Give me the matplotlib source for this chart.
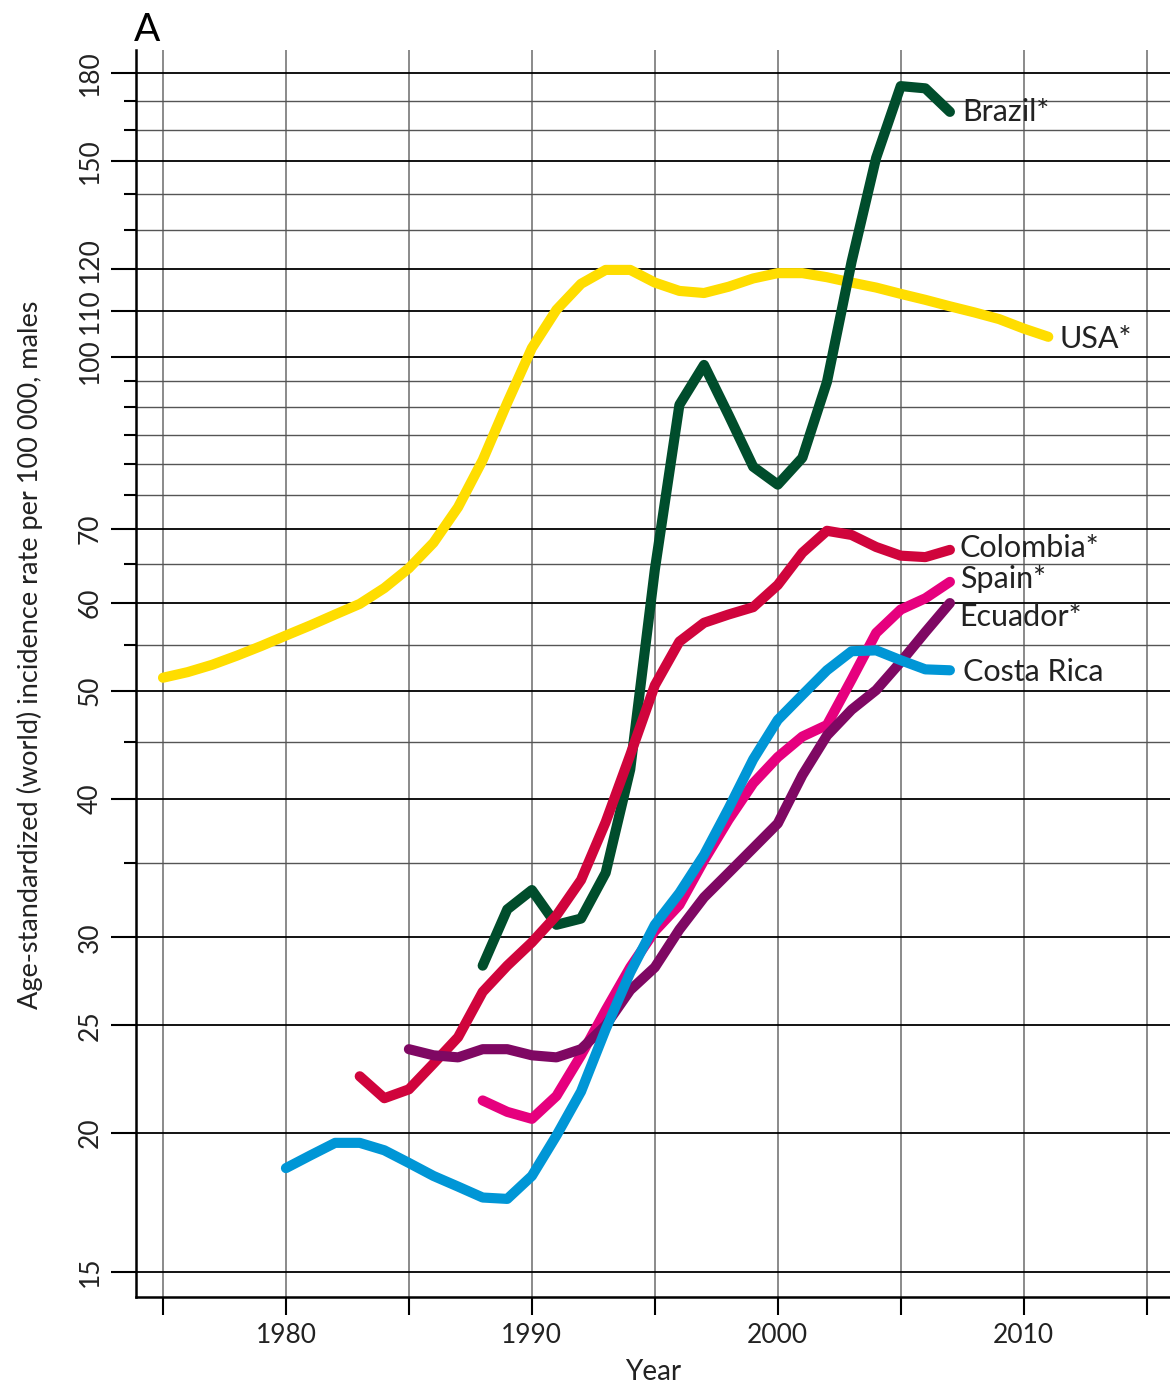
import matplotlib.pyplot as plt
from matplotlib.ticker import FixedLocator, NullFormatter
from matplotlib.transforms import offset_copy

plt.rcParams['font.family'] = ['Lato', 'DejaVu Sans']

usa_years = list(range(1975, 2012))
usa = [51.4, 52.0, 52.8, 53.8, 54.9, 56.1, 57.3, 58.6, 59.9, 61.9,
       64.5, 68.0, 73.2, 80.7, 90.9, 101.8, 110.2, 116.3, 119.7, 119.7,
       116.6, 114.6, 114.1, 115.6, 117.6, 118.9, 118.9, 117.9, 116.6, 115.4,
       113.9, 112.5, 111.0, 109.6, 108.1, 106.0, 104.2]

brazil_years = list(range(1988, 2008))
brazil = [28.3, 31.8, 33.1, 30.8, 31.2, 34.3, 42.5, 64.3, 90.5, 98.3,
          88.6, 79.6, 76.7, 81.1, 94.9, 121.7, 151.0, 175.2, 174.4, 166.1]

colombia_years = list(range(1983, 2008))
colombia = [22.5, 21.5, 21.9, 23.1, 24.4, 26.8, 28.3, 29.7, 31.4, 33.8,
            38.1, 43.8, 50.6, 55.4, 57.6, 58.6, 59.5, 62.3, 66.6, 69.7,
            69.1, 67.4, 66.2, 66.0, 67.0]

spain_years = list(range(1988, 2008))
spain = [21.4, 20.9, 20.6, 21.6, 23.5, 25.8, 28.2, 30.4, 32.1, 35.2,
         38.3, 41.3, 43.6, 45.5, 46.6, 51.2, 56.4, 59.2, 60.6, 62.7]

ecuador_years = list(range(1985, 2008))
ecuador = [23.8, 23.5, 23.4, 23.8, 23.8, 23.5, 23.4, 23.8, 25.0, 26.9,
           28.2, 30.5, 32.6, 34.3, 36.1, 38.0, 42.0, 45.6, 48.1, 50.1,
           53.1, 56.5, 60.0]

costa_rica_years = list(range(1980, 2008))
costa_rica = [18.6, 19.1, 19.6, 19.6, 19.3, 18.8, 18.3, 17.9, 17.5, 17.45,
              18.3, 19.9, 21.8, 24.8, 27.9, 30.8, 32.9, 35.6, 39.2, 43.4,
              47.1, 49.6, 52.2, 54.3, 54.4, 53.3, 52.3, 52.2]

major_y = [15, 20, 25, 30, 40, 50, 60, 70, 100, 110, 120, 150, 180]
minor_y = [35, 45, 55, 65, 75, 80, 85, 90, 95, 130, 140, 160, 170]
x_ticks = list(range(1975, 2016, 5))
x_labels = ['', '1980', '', '1990', '', '2000', '', '2010', '']

fig = plt.figure(figsize=(11.7, 13.83), dpi=100)
ax = fig.add_axes([0.1162, 0.0622, 0.8838, 0.9016])

# name, label x, label y
series = [
    (usa_years, usa, '#FFDD00', 'USA*', 2011.45, 103.7),
    (brazil_years, brazil, '#004D2C', 'Brazil*', 2007.5, 166),
    (colombia_years, colombia, '#D0043C', 'Colombia*', 2007.4, 67.3),
    (spain_years, spain, '#E6007E', 'Spain*', 2007.4, 63.1),
    (ecuador_years, ecuador, '#7F0863', 'Ecuador*', 2007.4, 58.3),
    (costa_rica_years, costa_rica, '#0096D6', 'Costa Rica', 2007.55, 52.0),
]
for years, vals, color, name, lx, ly in series:
    ax.plot(years, vals, color=color, lw=7.3, solid_capstyle='round',
            solid_joinstyle='round', zorder=3)
    ax.text(lx, ly, name, fontsize=22, va='center', ha='left', color='#222222')

ax.set_yscale('log')
ax.set_ylim(14.24, 188.8)
ax.set_xlim(1973.9, 2015.95)

ax.yaxis.set_major_locator(FixedLocator(major_y))
ax.yaxis.set_minor_locator(FixedLocator(minor_y))
ax.yaxis.set_major_formatter(NullFormatter())
ax.yaxis.set_minor_formatter(NullFormatter())
ax.set_xticks(x_ticks)
ax.set_xticklabels(x_labels)

# y tick labels drawn by hand so 100/110/120 don't collide
shift = {120: 9, 100: -4}
ytrans = ax.get_yaxis_transform()
for v in major_y:
    tr = offset_copy(ytrans, fig=fig, y=shift.get(v, 0), units='dots')
    ax.text(-0.044, v, str(v), transform=tr, rotation=90, fontsize=19,
            ha='center', va='center', color='#222222')

ax.tick_params(axis='y', which='major', length=18, width=1.5)
ax.tick_params(axis='y', which='minor', length=9, width=1.5)
ax.tick_params(axis='x', which='major', length=13, width=1.5, labelsize=19,
               pad=6, labelcolor='#222222')

ax.grid(which='major', axis='y', color='black', lw=1.3, zorder=1)
ax.grid(which='minor', axis='y', color='#555555', lw=1.0, zorder=1)
ax.grid(which='major', axis='x', color='#777777', lw=1.2, zorder=1)

for side in ['top', 'right']:
    ax.spines[side].set_visible(False)
for side in ['left', 'bottom']:
    ax.spines[side].set_linewidth(1.8)

ax.set_xlabel('Year', fontsize=20, labelpad=8, color='#222222')
ax.text(-0.103, 0.515, 'Age-standardized (world) incidence rate per 100 000, males',
        transform=ax.transAxes, rotation=90, fontsize=19.5, ha='center',
        va='center', color='#222222')

fig.text(0.126, 0.978, 'A', fontsize=28, ha='center', va='center')

plt.savefig('out.png')
